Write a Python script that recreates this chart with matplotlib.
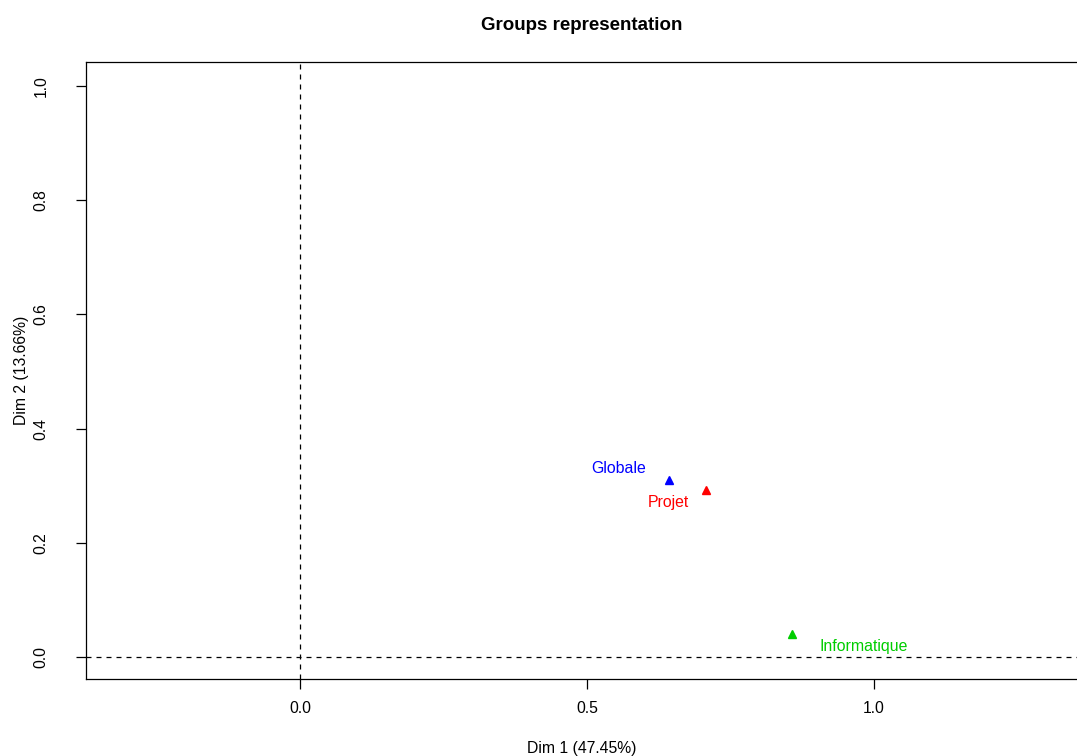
import matplotlib
matplotlib.use("Agg")
import matplotlib.pyplot as plt

# Group coordinates on the first two dimensions
groups = ["Globale", "Projet", "Informatique"]
dim1 = [0.642, 0.707, 0.857]
dim2 = [0.310, 0.292, 0.040]
colors = ["#0000FF", "#FF0000", "#00CD00"]
# label offsets (points) relative to each marker
label_offsets = [(-36, 8), (-27, -9), (52, -9)]

x_ticks = [0.0, 0.5, 1.0]
y_ticks = [0.0, 0.2, 0.4, 0.6, 0.8, 1.0]

plt.rcParams["font.family"] = ["Liberation Sans", "DejaVu Sans"]

fig = plt.figure(figsize=(10.77, 7.56), dpi=100)
ax = fig.add_axes([86 / 1077, 1 - 679 / 756, 1 - 86 / 1077 + 0.001, (679 - 62) / 756])

ax.set_xlim(-0.3735, 1.356)
ax.set_ylim(-0.0385, 1.042)

ax.axvline(0, color="black", lw=0.9, ls=(0, (4, 4)), zorder=1)
ax.axhline(0, color="black", lw=0.9, ls=(0, (4, 4)), zorder=1)

for x, y, name, c, off in zip(dim1, dim2, groups, colors, label_offsets):
    ax.plot(x, y, marker="^", color=c, markersize=6.3, ls="none", zorder=3)
    ax.annotate(name, (x, y), xytext=off, textcoords="offset points",
                ha="center", va="center", color=c, fontsize=11.4)

ax.set_xticks(x_ticks)
ax.set_xticklabels([f"{v:.1f}" for v in x_ticks])
ax.set_yticks(y_ticks)
ax.set_yticklabels([f"{v:.1f}" for v in y_ticks], rotation=90, va="center")
ax.tick_params(direction="out", length=7, width=0.9, labelsize=11.3)
ax.tick_params(axis="x", pad=9)
ax.tick_params(axis="y", pad=20)

for s in ax.spines.values():
    s.set_linewidth(0.9)

ax.set_xlabel("Dim 1 (47.45%)", fontsize=11.3, labelpad=18)
ax.set_ylabel("Dim 2 (13.66%)", fontsize=11.3, labelpad=3.5)
ax.set_title("Groups representation", fontsize=13.5, fontweight="bold", pad=23)

fig.savefig("out.png", dpi=100)
